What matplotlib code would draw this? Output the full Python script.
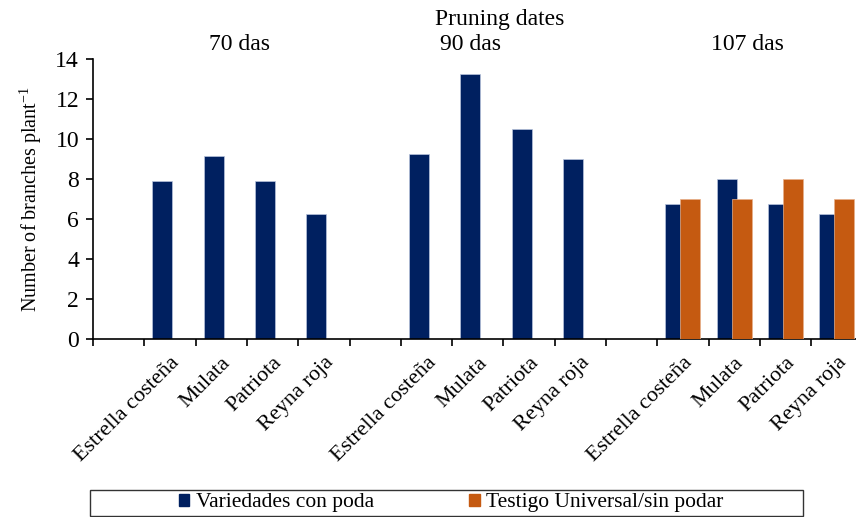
import matplotlib
matplotlib.use('Agg')
import matplotlib.pyplot as plt
from matplotlib.patches import Rectangle
import numpy as np

plt.rcParams['font.family'] = ['Liberation Serif', 'DejaVu Serif']

# categories (blank slot before each pruning date group)
categories = ['', 'Estrella costeña', 'Mulata', 'Patriota', 'Reyna roja',
              '', 'Estrella costeña', 'Mulata', 'Patriota', 'Reyna roja',
              '', 'Estrella costeña', 'Mulata', 'Patriota', 'Reyna roja']
con_poda = [np.nan, 7.9, 9.15, 7.9, 6.25,
            np.nan, 9.25, 13.25, 10.5, 9.0,
            np.nan, 6.75, 8.0, 6.75, 6.25]
sin_podar = [np.nan, np.nan, np.nan, np.nan, np.nan,
             np.nan, np.nan, np.nan, np.nan, np.nan,
             np.nan, 7.0, 7.0, 8.0, 7.0]
group_labels = ['70 das', '90 das', '107 das']

navy = '#002060'
orange = '#C55A11'

fig = plt.figure(figsize=(8.56, 5.17), dpi=100)
ax = fig.add_axes([93/856, 177.7/517, 769.5/856, 280/517])

x = np.arange(len(categories))
w = 0.39
off = 0.146
ax.bar(x - off, con_poda, w, color=navy, edgecolor='#b8c4dc', linewidth=0.5, zorder=2)
ax.bar(x + off, sin_podar, w, color=orange, edgecolor='#e8b08a', linewidth=0.5, zorder=3)

ax.set_xlim(-0.5, len(categories) - 0.5)
ax.set_ylim(0, 14)
ax.set_yticks(range(0, 15, 2))
ax.tick_params(axis='y', labelsize=17, direction='out', length=5, width=1.2, pad=5)
ax.set_xticks(x)
ax.set_xticklabels(categories, rotation=45, ha='right', rotation_mode='anchor', fontsize=16)
ax.tick_params(axis='x', which='major', length=0, pad=10)
ax.set_xticks(np.arange(-0.5, len(categories), 1), minor=True)
ax.tick_params(axis='x', which='minor', length=5, width=1.2, direction='out')

for s in ['top', 'right']:
    ax.spines[s].set_visible(False)
for s in ['left', 'bottom']:
    ax.spines[s].set_linewidth(1.2)

ax.set_ylabel('Number of branches plant$^{\\mathregular{-1}}$', fontsize=14.5, labelpad=8)

# group headings
fig.text(500/856, 1 - 20/517, 'Pruning dates', ha='center', va='center', fontsize=17)
for lab, px in zip(group_labels, [240, 471, 747]):
    fig.text(px/856, 1 - 45/517, lab, ha='center', va='center', fontsize=17)

# legend with box
fig.patches.append(Rectangle((90/856, 1 - 516/517), 713/856, 26/517,
                             transform=fig.transFigure, fill=False,
                             edgecolor='#333333', linewidth=1.0))
h1 = Rectangle((0, 0), 1, 1, color=navy)
h2 = Rectangle((0, 0), 1, 1, color=orange)
fig.legend([h1, h2], ['Variedades con poda', 'Testigo Universal/sin podar'],
           loc='center', bbox_to_anchor=(451/856, 1 - 503/517), ncol=2,
           frameon=False, fontsize=15.5, handlelength=0.5, handleheight=0.5,
           handletextpad=0.3, columnspacing=4.4)

fig.savefig('out.png', dpi=100)
